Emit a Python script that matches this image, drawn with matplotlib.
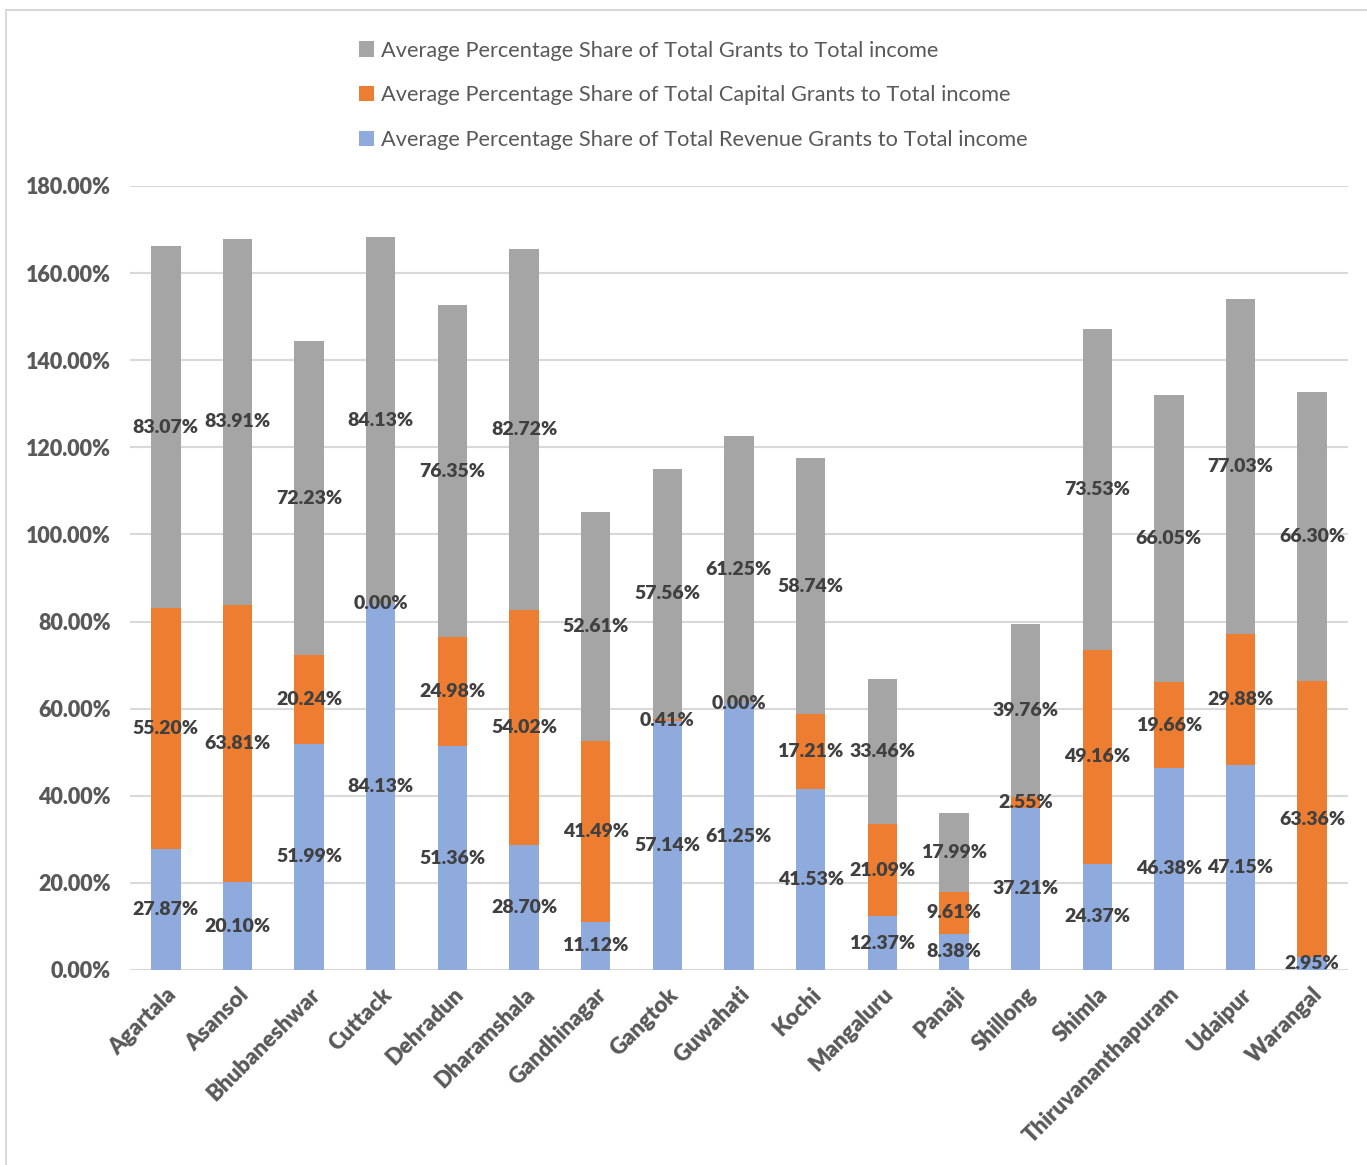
import matplotlib
matplotlib.use("Agg")
import matplotlib.pyplot as plt
from matplotlib.patches import Rectangle
from matplotlib.ticker import FuncFormatter
import numpy as np

plt.rcParams["font.family"] = ["Lato", "DejaVu Sans"]

cities = ["Agartala", "Asansol", "Bhubaneshwar", "Cuttack", "Dehradun", "Dharamshala",
          "Gandhinagar", "Gangtok", "Guwahati", "Kochi", "Mangaluru", "Panaji",
          "Shillong", "Shimla", "Thiruvananthapuram", "Udaipur", "Warangal"]
revenue = [27.87, 20.10, 51.99, 84.13, 51.36, 28.70, 11.12, 57.14, 61.25, 41.53,
           12.37, 8.38, 37.21, 24.37, 46.38, 47.15, 2.95]
capital = [55.20, 63.81, 20.24, 0.00, 24.98, 54.02, 41.49, 0.41, 0.00, 17.21,
           21.09, 9.61, 2.55, 49.16, 19.66, 29.88, 63.36]
total = [83.07, 83.91, 72.23, 84.13, 76.35, 82.72, 52.61, 57.56, 61.25, 58.74,
         33.46, 17.99, 39.76, 73.53, 66.05, 77.03, 66.30]

C_REV = "#8FAADC"
C_CAP = "#ED7D31"
C_TOT = "#A5A5A5"

fig = plt.figure(figsize=(13.67, 11.65), dpi=100)
ax = fig.add_axes([130 / 1367, 1 - 970 / 1165, 1218 / 1367, 784 / 1165])

# outer chart border
fig.patches.append(Rectangle((6 / 1367, -0.01), 1.1, 1 - 10 / 1165 + 0.01,
                             transform=fig.transFigure, fill=False,
                             edgecolor="#D9D9D9", linewidth=1.5))

x = np.arange(len(cities))
w = 0.41
rev = np.array(revenue)
cap = np.array(capital)
tot = np.array(total)

b1 = ax.bar(x, rev, w, color=C_REV, zorder=3,
            label="Average Percentage Share of Total Revenue Grants to Total income")
b2 = ax.bar(x, cap, w, bottom=rev, color=C_CAP, zorder=3,
            label="Average Percentage Share of Total Capital Grants to Total income")
b3 = ax.bar(x, tot, w, bottom=rev + cap, color=C_TOT, zorder=3,
            label="Average Percentage Share of Total Grants to Total income")

for bars in (b1, b2, b3):
    ax.bar_label(bars, fmt=lambda v: f"{v:.2f}%", label_type="center",
                 fontsize=14, fontweight="heavy", color="#404040", zorder=4)

ax.set_xlim(-0.5, len(cities) - 0.5)
ax.set_ylim(0, 180)
ax.set_yticks(np.arange(0, 181, 20))
ax.yaxis.set_major_formatter(FuncFormatter(lambda v, p: f"{v:.2f}%"))
ax.yaxis.grid(True, color="#D9D9D9", linewidth=1.5, zorder=0)
ax.set_axisbelow(True)
for s in ax.spines.values():
    s.set_visible(False)
ax.tick_params(axis="both", length=0, labelsize=15.5, labelcolor="#595959")
ax.tick_params(axis="y", pad=14)
for t in ax.get_yticklabels():
    t.set_fontweight("heavy")

ax.set_xticks(x)
ax.set_xticklabels(cities, rotation=45, ha="right", va="top",
                   rotation_mode="anchor", fontweight="heavy", fontsize=16)
ax.tick_params(axis="x", pad=10)

handles = [b3, b2, b1]
fig.legend(handles, [h.get_label() for h in handles],
           loc="upper left", bbox_to_anchor=(339 / 1367, 1 - 21 / 1165),
           frameon=False, fontsize=15.7, labelcolor="#595959",
           handlelength=0.72, handleheight=0.72, handletextpad=0.3,
           labelspacing=1.13)

fig.savefig("out.png", dpi=100)
